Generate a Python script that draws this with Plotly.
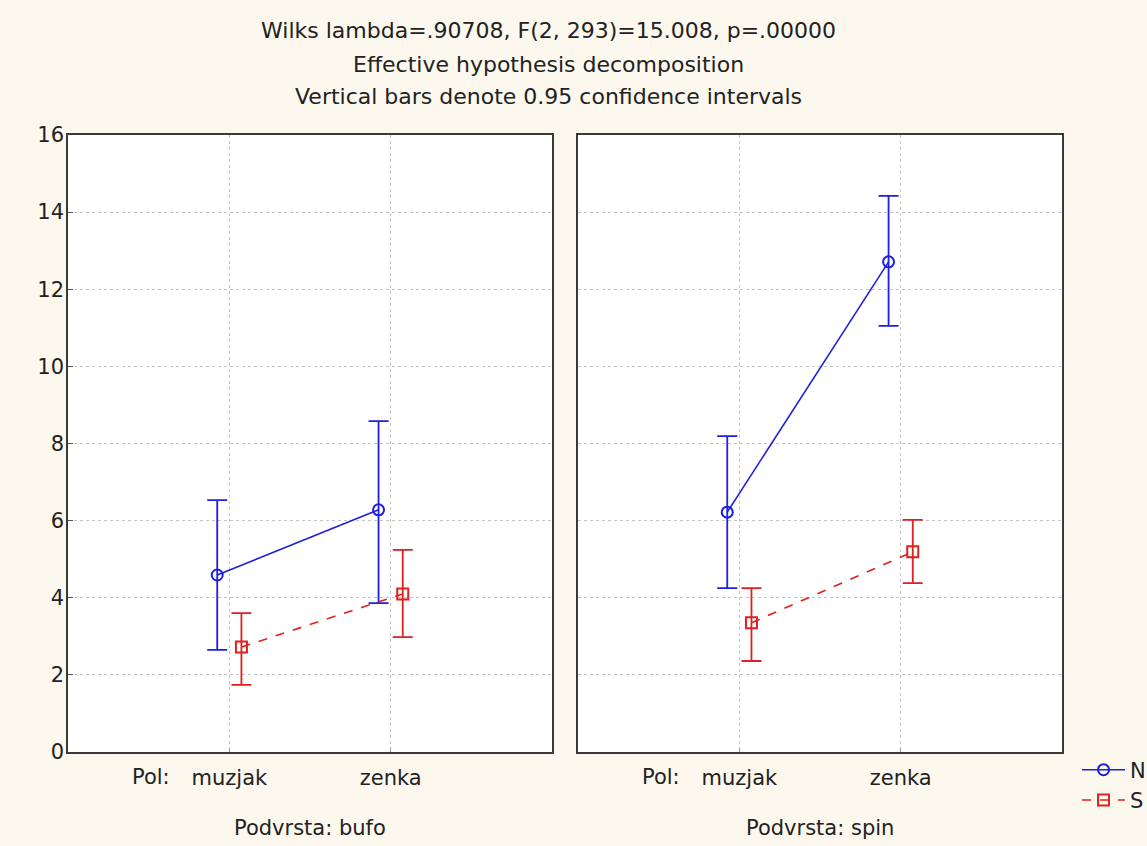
import plotly.graph_objects as go
from plotly.subplots import make_subplots

# ---- data ----
pol = ["muzjak", "zenka"]
podvrsta = ["bufo", "spin"]
series_names = ["N", "S"]

# means and 95% CI bounds per subspecies panel, per sex
n_mean = {"bufo": [4.59, 6.28], "spin": [6.22, 12.71]}
n_upper = {"bufo": [6.53, 8.58], "spin": [8.19, 14.42]}
n_lower = {"bufo": [2.65, 3.86], "spin": [4.25, 11.05]}

s_mean = {"bufo": [2.72, 4.10], "spin": [3.35, 5.19]}
s_upper = {"bufo": [3.60, 5.24], "spin": [4.25, 6.02]}
s_lower = {"bufo": [1.74, 2.98], "spin": [2.36, 4.38]}

title_lines = [
    "Wilks lambda=.90708, F(2, 293)=15.008, p=.00000",
    "Effective hypothesis decomposition",
    "Vertical bars denote 0.95 confidence intervals",
]
yticks = [0, 2, 4, 6, 8, 10, 12, 14, 16]

FONT = "DejaVu Sans, Arial, sans-serif"
FS = 21
FS_T = 22
BLUE = "#1f1fe0"
RED = "#e01f1f"
BG = "#fcf8ee"

fig = make_subplots(rows=1, cols=2, horizontal_spacing=0.0262, shared_yaxes=False)

cat_idx = list(range(len(pol)))
offset = 0.075

for ci, sp in enumerate(podvrsta):
    col = ci + 1
    for name, mean, up, lo, color, sym, dash, off in [
        (series_names[0], n_mean, n_upper, n_lower, BLUE, "circle-open", "solid", -offset),
        (series_names[1], s_mean, s_upper, s_lower, RED, "square-open", "dash", offset),
    ]:
        m = mean[sp]
        fig.add_trace(
            go.Scatter(
                x=[i + off for i in cat_idx],
                y=m,
                mode="lines+markers",
                name=name,
                legendgroup=name,
                showlegend=(ci == 0),
                line=dict(color=color, width=1.6, dash=dash),
                marker=dict(symbol=sym, size=11, color=color, line=dict(width=2, color=color)),
                error_y=dict(
                    type="data",
                    symmetric=False,
                    array=[u - v for u, v in zip(up[sp], m)],
                    arrayminus=[v - l for l, v in zip(lo[sp], m)],
                    color=color,
                    thickness=1.8,
                    width=10,
                ),
            ),
            row=1,
            col=col,
        )

for col in (1, 2):
    fig.update_xaxes(
        range=[-1, 2],
        tickvals=cat_idx,
        ticktext=pol,
        showgrid=True,
        gridcolor="#c4c4c4",
        griddash="dot",
        gridwidth=1,
        showline=True,
        mirror=True,
        linecolor="#3a3a3a",
        linewidth=1.5,
        ticks="inside",
        ticklen=4,
        tickcolor="#999999",
        ticklabelstandoff=6,
        tickfont=dict(family=FONT, size=FS, color="#222222"),
        zeroline=False,
        row=1,
        col=col,
    )
    fig.update_yaxes(
        range=[0, 16],
        tickvals=yticks,
        showgrid=True,
        gridcolor="#c4c4c4",
        griddash="dot",
        gridwidth=1,
        showline=True,
        mirror=True,
        linecolor="#3a3a3a",
        linewidth=1.5,
        zeroline=False,
        ticks="inside" if col == 1 else "",
        ticklen=5,
        tickcolor="#555555",
        ticklabelstandoff=-2,
        showticklabels=(col == 1),
        tickfont=dict(family=FONT, size=FS, color="#222222"),
        row=1,
        col=col,
    )

annotations = []
for i, txt in enumerate(title_lines):
    annotations.append(dict(
        text=txt, xref="paper", yref="paper", x=0.483, y=[1.170, 1.115, 1.0616][i],
        xanchor="center", yanchor="middle", showarrow=False,
        font=dict(family=FONT, size=FS_T, color="#222222"),
    ))

for ci, sp in enumerate(podvrsta):
    xd = "x domain" if ci == 0 else "x2 domain"
    annotations.append(dict(
        text="Podvrsta: " + sp, xref=xd, yref="paper", x=0.5, y=-0.123,
        xanchor="center", yanchor="middle", showarrow=False,
        font=dict(family=FONT, size=FS, color="#222222"),
    ))
    annotations.append(dict(
        text="Pol:", xref=xd, yref="paper", x=0.171, y=-0.0405,
        xanchor="center", yanchor="middle", showarrow=False,
        font=dict(family=FONT, size=FS, color="#222222"),
    ))

fig.update_layout(
    width=1147,
    height=846,
    autosize=False,
    margin=dict(l=68, r=85, t=135, b=94),
    paper_bgcolor=BG,
    plot_bgcolor="#ffffff",
    annotations=annotations,
    legend=dict(
        xref="container", yref="container",
        x=0.939, y=0.114, xanchor="left", yanchor="top",
        font=dict(family=FONT, size=FS, color="#222222"),
        bgcolor="rgba(0,0,0,0)",
        tracegroupgap=0,
        itemwidth=43,
    ),
    font=dict(family=FONT, size=FS),
)

fig.write_html(
    "out.html",
    config={"displayModeBar": False, "responsive": False},
    post_script=(
        "document.body.style.margin='0';"
        "document.body.style.overflow='hidden';"
        "document.documentElement.style.overflow='hidden';"
        "document.body.style.background='%s';" % BG
    ),
)
